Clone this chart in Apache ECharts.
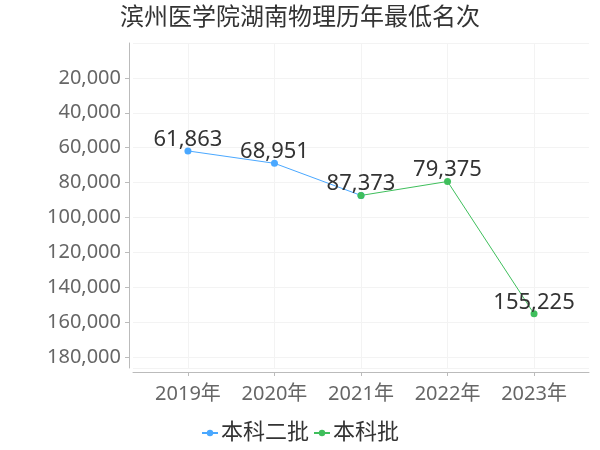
<!DOCTYPE html>
<html>
<head>
<meta charset="utf-8">
<script src="https://cdn.jsdelivr.net/npm/echarts@6/dist/echarts.min.js"></script>
<style>html,body{margin:0;padding:0;background:#fff}#c{width:600px;height:450px}</style>
</head>
<body>
<div id="c"></div>
<script>
const titleText = '滨州医学院湖南物理历年最低名次';
const years = ['2019年', '2020年', '2021年', '2022年', '2023年'];
const seriesNames = ['本科二批', '本科批'];
const erpiValues = [61863, 68951, 87373, null, null];
const benkeValues = [null, null, 87373, 79375, 155225];
const yTickInterval = 20000;

const FONT = '"Noto Sans", "Noto Sans CJK SC", sans-serif';
const allVals = erpiValues.concat(benkeValues).filter(v => v != null);
const yMax = Math.max(...allVals) * 1.2;
const toPairs = arr => arr.map((v, i) => v == null ? null : [i, v]).filter(p => p);
const idx = years.map((_, i) => i);

const chart = echarts.init(document.getElementById('c'), null, {renderer: 'canvas'});
const labelCfg = {
  show: true, position: 'top', distance: -3,
  fontSize: 22, color: '#333', fontFamily: FONT,
  formatter: p => p.value[1].toLocaleString('en-US')
};
chart.setOption({
  animation: false,
  backgroundColor: '#fff',
  title: {
    text: titleText, left: 'center', top: 1,
    textStyle: {fontSize: 24, fontWeight: 'normal', color: '#333', fontFamily: FONT}
  },
  legend: {
    bottom: 1, left: 'center', itemGap: 4, itemWidth: 16, itemHeight: 8,
    textStyle: {fontSize: 22, color: '#333', fontFamily: FONT, padding: [0, 0, 0, -2]},
    data: seriesNames
  },
  grid: {left: 133, right: 11, top: 43, bottom: 82, containLabel: false},
  xAxis: {
    type: 'value', min: -0.635, max: 4.635, offset: 4,
    axisLine: {show: true, onZero: false, lineStyle: {color: '#bbb'}},
    axisTick: {show: true, length: 4, customValues: idx, lineStyle: {color: '#bbb'}},
    axisLabel: {customValues: idx, fontSize: 20, color: '#666', fontFamily: FONT, margin: 12,
      formatter: v => years[Math.round(v)]},
    splitLine: {show: true, lineStyle: {color: '#f3f3f3'}}
  },
  yAxis: {
    type: 'value', inverse: true, min: 0, max: yMax, interval: yTickInterval, offset: 4,
    axisLine: {show: true, onZero: false, lineStyle: {color: '#bbb'}},
    axisTick: {show: true, length: 4, lineStyle: {color: '#bbb'}},
    axisLabel: {fontSize: 20, color: '#666', fontFamily: FONT, margin: 8, showMinLabel: false,
      formatter: v => v.toLocaleString('en-US')},
    splitLine: {show: true, lineStyle: {color: '#f3f3f3'}}
  },
  series: [
    {name: seriesNames[0], type: 'line', data: toPairs(erpiValues), color: '#4aa8ff',
      symbol: 'circle', symbolSize: 7, lineStyle: {width: 1}, label: labelCfg,
      labelLayout: {hideOverlap: true}},
    {name: seriesNames[1], type: 'line', data: toPairs(benkeValues), color: '#3fbf5c',
      symbol: 'circle', symbolSize: 7, lineStyle: {width: 1}, label: labelCfg,
      labelLayout: {hideOverlap: true}}
  ]
});
</script>
</body>
</html>
